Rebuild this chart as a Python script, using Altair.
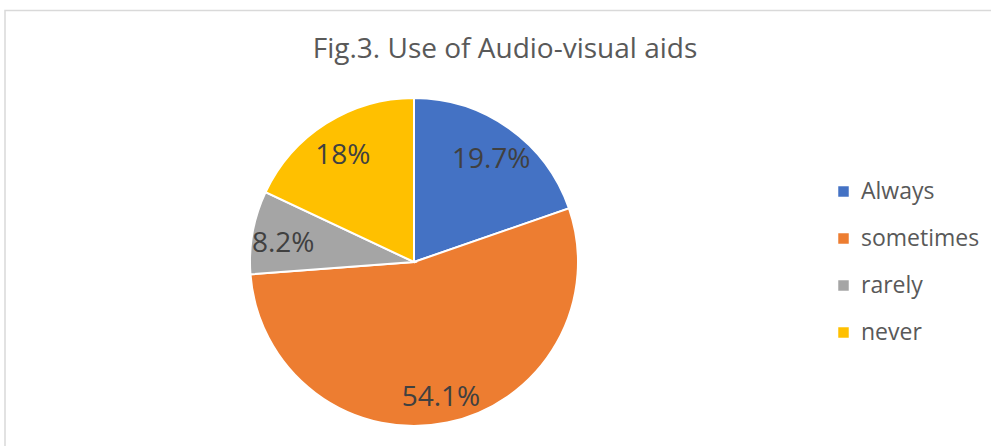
import altair as alt
import pandas as pd

categories = ["Always", "sometimes", "rarely", "never"]
values = [19.7, 54.1, 8.2, 18.0]
labels = ["19.7%", "54.1%", "8.2%", "18%"]
colors = ["#4472C4", "#ED7D31", "#A5A5A5", "#FFC000"]

df = pd.DataFrame({"category": categories, "value": values, "label": labels,
                   "ord": list(range(len(categories)))})

FONT = "Open Sans"
CX, CY, R = 414, 262, 164

base = alt.Chart(df)

border = alt.Chart(pd.DataFrame({"a": [0]})).mark_rect(
    fill="white", stroke="#D9D9D9", strokeWidth=1.5
).encode(x=alt.value(5), x2=alt.value(1000), y=alt.value(10.5), y2=alt.value(470))

title = alt.Chart(pd.DataFrame({"t": ["Fig.3. Use of Audio-visual aids"]})).mark_text(
    font=FONT, fontSize=28, color="#595959", align="center", baseline="middle"
).encode(x=alt.value(505), y=alt.value(50), text="t:N")

pie = base.mark_arc(outerRadius=R, stroke="white", strokeWidth=2).encode(
    theta=alt.Theta("value:Q", stack=True),
    color=alt.Color("category:N", sort=categories,
                    scale=alt.Scale(domain=categories, range=colors),
                    legend=alt.Legend(title=None, orient="none", legendX=832, legendY=180,
                                      labelFont=FONT, labelFontSize=23, labelColor="#595959",
                                      symbolType="square", symbolSize=110, symbolStrokeWidth=0,
                                      rowPadding=23, labelOffset=6)),
    order=alt.Order("ord:Q"),
    x=alt.value(CX), y=alt.value(CY),
)

text = base.mark_text(radius=133, dy=6, font=FONT, fontSize=28, color="#404040",
                      align="center", baseline="middle").encode(
    theta=alt.Theta("value:Q", stack=True),
    order=alt.Order("ord:Q"),
    text="label:N",
    x=alt.value(CX), y=alt.value(CY),
)

chart = alt.layer(border, title, pie, text).properties(
    width=991, height=446, padding=0, autosize=alt.AutoSizeParams(type="none")
).configure_view(stroke=None)

chart.save("out.html", embed_options={"renderer": "svg", "actions": False})
